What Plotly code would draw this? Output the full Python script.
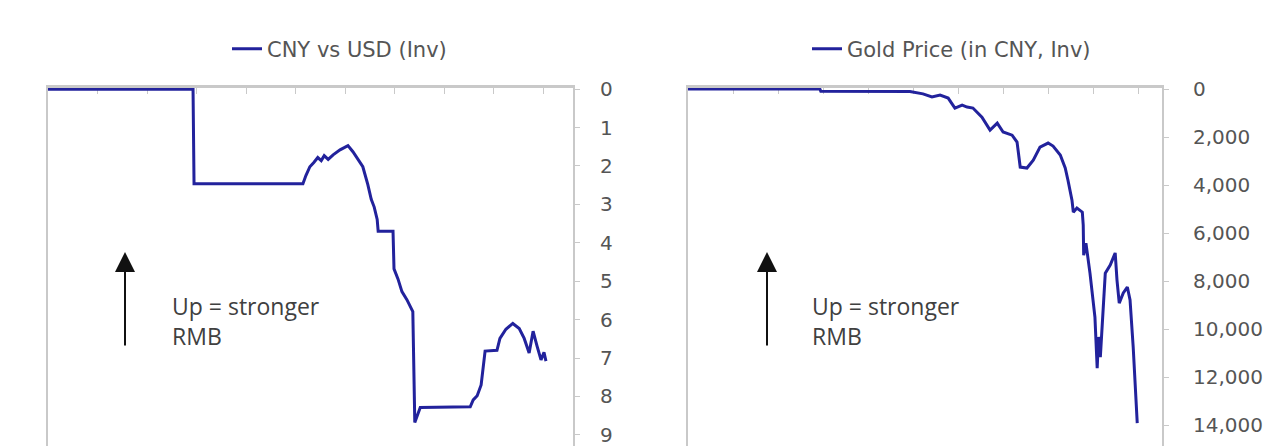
import plotly.graph_objects as go

W, H = 1283, 446

# ---- data ----
cny_years = [1920, 1949.3, 1949.5, 1971.5, 1972.1, 1972.9, 1973.7, 1974.5, 1975.2, 1975.8,
             1976.6, 1977.6, 1979.0, 1980.6, 1981.6, 1982.6, 1983.6, 1984.6, 1985.3, 1985.9,
             1986.5, 1986.7, 1989.7, 1989.9, 1990.7, 1991.5, 1992.5, 1993.7, 1994.1, 1995.2,
             2005.3, 2005.9, 2006.7, 2007.5, 2008.3, 2010.7, 2011.3, 2012.5, 2013.9, 2015.2,
             2016.2, 2017.2, 2018.0, 2018.8, 2019.6, 2020.2, 2020.6]
cny_values = [0, 0, 2.46, 2.46, 2.25, 2.02, 1.91, 1.78, 1.86, 1.73,
              1.83, 1.71, 1.58, 1.47, 1.63, 1.83, 2.02, 2.48, 2.87, 3.07,
              3.39, 3.70, 3.70, 4.68, 4.94, 5.27, 5.48, 5.79, 8.68, 8.29,
              8.27, 8.09, 7.98, 7.70, 6.82, 6.80, 6.49, 6.25, 6.10, 6.23,
              6.49, 6.87, 6.30, 6.69, 7.05, 6.85, 7.08]

gold_years = [1920, 1949.3, 1949.5, 1969.3, 1972.2, 1974.2, 1976.0, 1977.8, 1979.3, 1980.9,
              1982.0, 1983.3, 1985.3, 1987.1, 1988.7, 1990.0, 1992.0, 1993.1, 1993.8, 1995.3,
              1996.7, 1998.2, 2000.0, 2001.1, 2002.7, 2003.8, 2004.4, 2005.3, 2005.6, 2006.4,
              2007.6, 2007.8, 2007.9, 2008.4, 2009.3, 2010.4, 2010.9, 2011.2, 2011.6, 2012.2,
              2012.7, 2013.8, 2014.9, 2015.3, 2015.8, 2016.7, 2017.6, 2018.2, 2018.9, 2019.8]
gold_values = [0, 0, 86, 100, 200, 330, 250, 375, 790, 670,
               750, 790, 1170, 1710, 1420, 1790, 1920, 2210, 3250, 3290,
               2960, 2420, 2250, 2375, 2750, 3290, 3790, 4630, 5130, 4960,
               5130, 5670, 6920, 6420, 7670, 9500, 11630, 10330, 11170, 9080,
               7670, 7330, 6830, 7960, 8920, 8500, 8250, 8790, 10750, 13920]

cny_ticks = list(range(0, 10))
gold_ticks = list(range(0, 14001, 2000))

cny_name = "CNY vs USD (Inv)"
gold_name = "Gold Price (in CNY, Inv)"
note_text = "Up = stronger<br>RMB"

# ---- styles ----
LINE = "#22229c"
AXIS = "#c9c9c9"
TICKTXT = "#555555"
FONT = "DejaVu Sans"
NOTE_FONT = "Open Sans"

def px_x(p):
    return p / W

def px_y(p):
    return 1 - p / H

fig = go.Figure()
fig.add_trace(go.Scatter(x=cny_years, y=cny_values, mode="lines", name=cny_name,
                         line=dict(color=LINE, width=3), xaxis="x", yaxis="y",
                         legend="legend"))
fig.add_trace(go.Scatter(x=gold_years, y=gold_values, mode="lines", name=gold_name,
                         line=dict(color=LINE, width=3), xaxis="x2", yaxis="y2",
                         legend="legend2"))

top = px_y(88)
common_x = dict(side="top", showline=True, linecolor=AXIS, linewidth=3, ticks="inside",
                ticklen=6, tickcolor=AXIS, tickwidth=1, showticklabels=False,
                showgrid=False, zeroline=False, dtick=10, tick0=1920,
                layer="below traces", automargin=False)
common_y = dict(side="right", showline=True, mirror=True, linecolor=AXIS, linewidth=2,
                ticks="outside", ticklen=5, tickcolor=AXIS, showgrid=False, zeroline=False,
                tickfont=dict(family=FONT, size=20, color=TICKTXT),
                ticklabeloverflow="allow", layer="below traces", automargin=False)

legend_common = dict(yanchor="middle", xanchor="right", bgcolor="rgba(0,0,0,0)",
                     font=dict(family=FONT, size=21, color=TICKTXT))

fig.update_layout(
    template="none",
    width=W, height=H,
    margin=dict(l=0, r=0, t=0, b=0, autoexpand=False),
    paper_bgcolor="white", plot_bgcolor="white",
    xaxis=dict(domain=[px_x(48), px_x(573)], range=[1920, 2026.06], anchor="y", **common_x),
    yaxis=dict(domain=[0, top], range=[9.29, -0.03], anchor="x", tickvals=cny_ticks,
               ticklabelstandoff=16, **common_y),
    xaxis2=dict(domain=[px_x(688), px_x(1162)], range=[1920, 2025.3], anchor="y2", **common_x),
    yaxis2=dict(domain=[0, top], range=[14875, -45], anchor="x2", tickvals=gold_ticks,
                tickformat=",", ticklabelstandoff=20, **common_y),
    legend=dict(x=px_x(452), y=px_y(49), **legend_common),
    legend2=dict(x=px_x(1096), y=px_y(49), **legend_common),
    showlegend=True,
)

for ax_x, tx_x in [(125, 170), (767, 810)]:
    fig.add_annotation(xref="paper", yref="paper", x=px_x(ax_x), y=px_y(252), ax=0, ay=95,
                       axref="pixel", ayref="pixel", text="", showarrow=True,
                       arrowhead=2, arrowsize=2.0, arrowwidth=2, arrowcolor="#111111")
    fig.add_annotation(xref="paper", yref="paper", x=px_x(tx_x), y=px_y(321),
                       xanchor="left", yanchor="middle", align="left", text=note_text,
                       showarrow=False, font=dict(family=NOTE_FONT, size=23, color="#404040"))

fig.write_html("out.html", config={"displayModeBar": False},
               post_script="document.body.style.margin='0';")
